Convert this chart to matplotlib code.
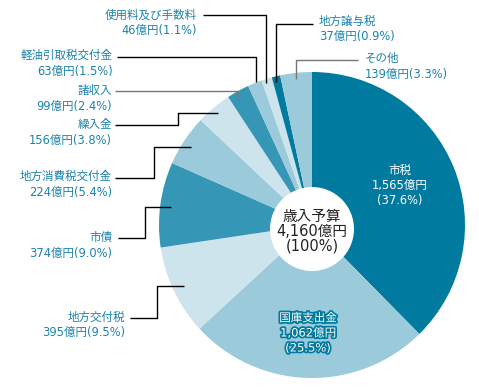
import matplotlib
matplotlib.use("Agg")
import matplotlib.pyplot as plt
import matplotlib.patheffects as pe
from matplotlib.patches import Circle

plt.rcParams['font.family'] = ['DejaVu Sans', 'Noto Sans CJK JP']

# ---- data ----
names = ["市税", "国庫支出金", "地方交付税", "市債", "地方消費税交付金", "繰入金",
         "諸収入", "軽油引取税交付金", "使用料及び手数料", "地方譲与税", "その他"]
amounts = [1565, 1062, 395, 374, 224, 156, 99, 63, 46, 37, 139]
percents = [37.6, 25.5, 9.5, 9.0, 5.4, 3.8, 2.4, 1.5, 1.1, 0.9, 3.3]
total_label = "歳入予算"
total_amount = 4160
total_percent = 100

# ---- styles ----
DARK = "#007a9e"
MED = "#3596b5"
LIGHT = "#9bcadb"
VLIGHT = "#cde4ec"
colors = [DARK, LIGHT, VLIGHT, MED, LIGHT, VLIGHT, MED, LIGHT, VLIGHT, DARK, LIGHT]
TXT = "#1a82ad"
FS = 8.3

W, H = 479, 392
fig = plt.figure(figsize=(W / 100, H / 100), dpi=100)
ax = fig.add_axes([0, 0, 1, 1])
ax.set_xlim(0, W)
ax.set_ylim(0, H)
ax.set_aspect('equal')
ax.axis('off')

def Y(y):
    return H - y

cx, cy, R = 312, 225, 153
ax.pie(amounts, colors=colors, startangle=90, counterclock=False,
       radius=R, center=(cx, Y(cy)), wedgeprops=dict(linewidth=0))
ax.set_xlim(0, W)
ax.set_ylim(0, H)
ax.add_patch(Circle((312, Y(229)), 42, facecolor='white', edgecolor='none', zorder=5))

# center text
ax.text(312, Y(231), f"{total_label}\n{total_amount:,}億円\n({total_percent}%)",
        ha='center', va='center', fontsize=10.5, color='#222222', linespacing=1.0, zorder=6)

# inside labels
ax.text(400, Y(185), f"{names[0]}\n{amounts[0]:,}億円\n({percents[0]}%)",
        ha='center', va='center', fontsize=FS, color='white', linespacing=1.2, zorder=6)
ax.text(308, Y(333), f"{names[1]}\n{amounts[1]:,}億円\n({percents[1]}%)",
        ha='center', va='center', fontsize=FS, color='white', linespacing=1.2, zorder=6,
        path_effects=[pe.withStroke(linewidth=2.5, foreground=DARK)])

# outside labels: index -> (x, y, ha)
label_pos = {
    8: (197, 23, 'right'),
    7: (113, 63.5, 'right'),
    6: (112, 98.5, 'right'),
    5: (112, 132.5, 'right'),
    4: (112, 184.5, 'right'),
    3: (112, 245.5, 'right'),
    2: (125, 325, 'right'),
    9: (319, 29, 'left'),
    10: (365, 66.5, 'left'),
}
for i, (x, y, ha) in label_pos.items():
    ax.text(x, Y(y), f"{names[i]}\n{amounts[i]}億円({percents[i]}%)",
            ha=ha, va='center', multialignment=ha, fontsize=FS, color=TXT,
            linespacing=1.25, zorder=6)

# leader lines
leaders = [
    ([203, 266, 266], [15, 15, 83], 'black'),
    ([117, 256, 256], [57, 57, 82], 'black'),
    ([115, 238, 238], [91, 91, 97], '#777777'),
    ([115, 178, 178, 218], [125, 125, 113, 113], 'black'),
    ([115, 154, 154, 191], [178, 178, 147, 147], 'black'),
    ([118, 145, 145, 171], [238, 238, 207, 207], 'black'),
    ([130, 157, 157, 184], [318, 318, 286, 286], 'black'),
    ([313, 276, 276], [24, 24, 82], 'black'),
    ([358, 296, 296], [60, 60, 79], '#777777'),
]
for xs, ys, c in leaders:
    ax.plot(xs, [Y(v) for v in ys], color=c, lw=1.0, zorder=7, solid_capstyle='butt')

fig.savefig("out.png", dpi=100)
